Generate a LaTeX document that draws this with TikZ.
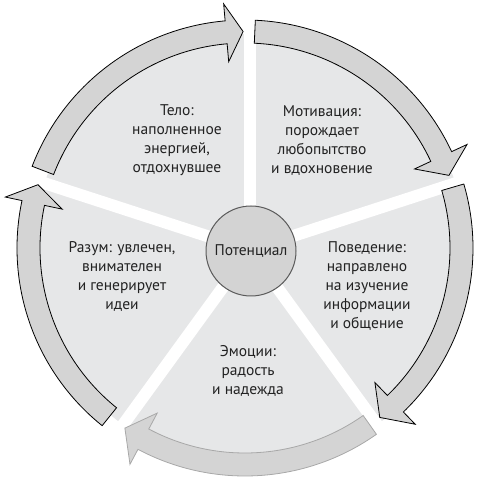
\documentclass[tikz,border=0pt]{standalone}
\usepackage{fontspec}
\setmainfont{PT Sans}
\definecolor{sectorfill}{HTML}{E6E7E8}
\definecolor{arrowfill}{HTML}{D4D4D4}
\definecolor{circfill}{HTML}{D3D3D3}
\definecolor{circline}{HTML}{5A5A5A}
\definecolor{txt}{HTML}{222222}
\definecolor{softline}{HTML}{A8A8A8}
\tikzset{
  ringarrow/.style={fill=arrowfill, draw=black, line width=0.8pt, line join=miter},
  softarrow/.style={fill=arrowfill, draw=softline, line width=0.8pt, line join=miter},
  gapline/.style={draw=white, line width=12pt},
  label/.style={align=center, text=txt, font=\fontsize{15.5}{19}\selectfont, inner sep=0pt},
  hub/.style={circle, fill=circfill, draw=circline, line width=1pt, minimum size=90pt, inner sep=0pt, text=txt, font=\fontsize{15.5}{19}\selectfont}
}
% arrow: #1 tail angle, #2 head base angle, #3 tip angle
\newcommand{\ringarrowpath}[3]{(#1:228) arc[start angle=#1, end angle=#2, radius=228pt] -- (#2:245) -- (#3:216.5) -- (#2:187) -- (#2:205) arc[start angle=#2, end angle=#1, radius=205pt] -- cycle}
\begin{document}
\begin{tikzpicture}[x=1pt,y=1pt]
\useasboundingbox (0,0) rectangle (482,482);
\coordinate (C1) at (250,232);
\coordinate (C2) at (245,234);
% sectors
\fill[sectorfill] (C1) circle[radius=216pt];
\foreach \a in {90,18,-54,-126,162} {
  \draw[gapline] (C1) -- ++(\a:245);
}
% arrows
\begin{scope}[shift={(C2)}]
\draw[ringarrow] \ringarrowpath{159}{95}{90.5};
\draw[ringarrow] \ringarrowpath{87.4}{25}{19.6};
\draw[ringarrow] \ringarrowpath{16.3}{-46}{-51.5};
\draw[softarrow] \ringarrowpath{-54.8}{-118}{-123.7};
\draw[ringarrow] \ringarrowpath{-128.8}{-192}{-197};
\end{scope}
% hub
\node[hub] (hub) at (251,231) {Потенциал};
% labels
\node[label] (body) at (177,341.5) {Тело:\\наполненное\\энергией,\\отдохнувшее};
\node[label] (motiv) at (322,341.5) {Мотивация:\\порождает\\любопытство\\и вдохновение};
\node[label] (behav) at (367,196) {Поведение:\\направлено\\на изучение\\информации\\и общение};
\node[label] (mind) at (122,206) {Разум: увлечен,\\внимателен\\и генерирует\\идеи};
\node[label] (emo) at (248,111) {Эмоции:\\радость\\и надежда};
\end{tikzpicture}
\end{document}
